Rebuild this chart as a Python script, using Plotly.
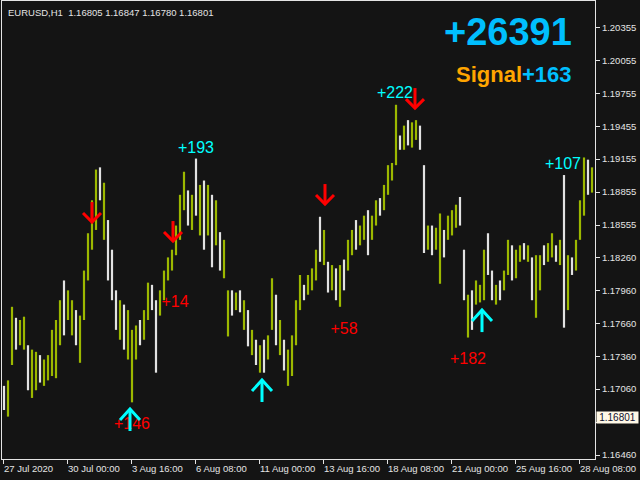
import plotly.graph_objects as go

# ---------------- data ----------------
hours = list(range(2, 591, 4))  # bar time index (hours since chart start)

high = [1.1709, 1.1714, 1.1781, 1.1771, 1.1769, 1.1772, 1.1746, 1.1742, 1.1740, 1.1737,
        1.1733, 1.1737, 1.1760, 1.1769, 1.1787, 1.1805, 1.1796, 1.1787, 1.1778, 1.1773,
        1.1814, 1.1848, 1.1878, 1.1906, 1.1908, 1.1894, 1.1860, 1.1833, 1.1796, 1.1787,
        1.1783, 1.1778, 1.1760, 1.1764, 1.1769, 1.1778, 1.1803, 1.1801, 1.1787, 1.1796,
        1.1814, 1.1826, 1.1833, 1.1855, 1.1883, 1.1904, 1.1887, 1.1883, 1.1916, 1.1892,
        1.1896, 1.1892, 1.1883, 1.1878, 1.1849, 1.1842, 1.1796, 1.1796, 1.1794, 1.1796,
        1.1787, 1.1778, 1.1760, 1.1751, 1.1746, 1.1751, 1.1755, 1.1807, 1.1792, 1.1769,
        1.1751, 1.1742, 1.1755, 1.1787, 1.1810, 1.1801, 1.1810, 1.1816, 1.1833, 1.1863,
        1.1851, 1.1822, 1.1819, 1.1816, 1.1819, 1.1824, 1.1842, 1.1851, 1.1860, 1.1855,
        1.1864, 1.1869, 1.1864, 1.1878, 1.1880, 1.1892, 1.1910, 1.1912, 1.1965, 1.1937,
        1.1946, 1.1951, 1.1949, 1.1951, 1.1946, 1.1910, 1.1855, 1.1855, 1.1853, 1.1866,
        1.1851, 1.1864, 1.1869, 1.1874, 1.1881, 1.1833, 1.1792, 1.1796, 1.1805, 1.1801,
        1.1833, 1.1848, 1.1814, 1.1801, 1.1805, 1.1814, 1.1842, 1.1837, 1.1833, 1.1837,
        1.1839, 1.1837, 1.1826, 1.1828, 1.1828, 1.1837, 1.1839, 1.1848, 1.1837, 1.1842,
        1.1901, 1.1828, 1.1826, 1.1842, 1.1878, 1.1917, 1.1915, 1.1908]

low = [1.1687, 1.1681, 1.1728, 1.1742, 1.1746, 1.1742, 1.1705, 1.1698, 1.1705, 1.1712,
       1.1709, 1.1714, 1.1718, 1.1716, 1.1746, 1.1755, 1.1769, 1.1755, 1.1746, 1.1730,
       1.1769, 1.1805, 1.1833, 1.1851, 1.1878, 1.1842, 1.1805, 1.1787, 1.1760, 1.1751,
       1.1742, 1.1733, 1.1694, 1.1733, 1.1746, 1.1751, 1.1769, 1.1778, 1.1721, 1.1773,
       1.1787, 1.1805, 1.1814, 1.1828, 1.1842, 1.1869, 1.1855, 1.1851, 1.1864, 1.1846,
       1.1833, 1.1846, 1.1817, 1.1837, 1.1814, 1.1807, 1.1754, 1.1773, 1.1778, 1.1776,
       1.1760, 1.1745, 1.1737, 1.1728, 1.1721, 1.1721, 1.1733, 1.1760, 1.1746, 1.1737,
       1.1723, 1.1709, 1.1718, 1.1746, 1.1778, 1.1787, 1.1792, 1.1796, 1.1805, 1.1822,
       1.1819, 1.1794, 1.1796, 1.1787, 1.1781, 1.1796, 1.1814, 1.1828, 1.1833, 1.1837,
       1.1842, 1.1828, 1.1842, 1.1855, 1.1864, 1.1869, 1.1883, 1.1896, 1.1910, 1.1924,
       1.1924, 1.1928, 1.1926, 1.1933, 1.1924, 1.1830, 1.1833, 1.1828, 1.1833, 1.1802,
       1.1826, 1.1842, 1.1846, 1.1853, 1.1855, 1.1787, 1.1753, 1.1760, 1.1783, 1.1785,
       1.1787, 1.1810, 1.1787, 1.1783, 1.1787, 1.1796, 1.1810, 1.1805, 1.1807, 1.1822,
       1.1824, 1.1822, 1.1787, 1.1771, 1.1796, 1.1819, 1.1822, 1.1826, 1.1822, 1.1819,
       1.1762, 1.1778, 1.1810, 1.1814, 1.1842, 1.1864, 1.1883, 1.1885]

bull = [0, 1, 1, 0, 1, 1, 0, 1, 1, 0,
        1, 1, 1, 1, 1, 0, 1, 1, 0, 1,
        1, 1, 1, 1, 0, 1, 0, 0, 0, 1,
        0, 1, 1, 1, 0, 1, 1, 0, 0, 1,
        1, 1, 1, 1, 1, 1, 0, 1, 0, 1,
        0, 1, 0, 1, 0, 1, 1, 0, 1, 0,
        1, 0, 1, 0, 1, 0, 1, 1, 0, 1,
        0, 1, 1, 1, 1, 0, 1, 1, 1, 0,
        1, 0, 1, 0, 1, 0, 1, 1, 0, 1,
        1, 0, 1, 1, 0, 1, 1, 1, 1, 0,
        1, 0, 1, 1, 0, 0, 1, 0, 1, 1,
        0, 1, 1, 1, 0, 0, 1, 0, 1, 1,
        1, 0, 0, 1, 0, 1, 1, 0, 1, 1,
        0, 1, 0, 1, 1, 0, 1, 1, 0, 1,
        0, 1, 0, 1, 1, 1, 0, 1]

# signals (arrow centre positions)
sell_hours = [90, 171, 323, 413]
sell_prices = [1.18673, 1.18500, 1.18837, 1.19711]
buy_hours = [128, 260, 480]
buy_prices = [1.16779, 1.17043, 1.17680]

profit_hours = [194, 393, 561, 173, 130, 342, 466]
profit_prices = [1.19247, 1.19748, 1.19101, 1.17844, 1.16733, 1.17598, 1.17325]
profit_texts = ["+193", "+222", "+107", "+14", "+146", "+58", "+182"]
profit_colors = ["#00FFFF", "#00FFFF", "#00FFFF", "#FF0000", "#FF0000", "#FF0000", "#FF0000"]

price_ticks = [1.20355, 1.20055, 1.19755, 1.19455, 1.19155, 1.18855, 1.18555,
               1.18260, 1.17960, 1.17660, 1.17360, 1.17060, 1.16760, 1.16460]
# the 1.16760 label sits under the current-price box, as in the terminal
price_tick_labels = ["1.20355", "1.20055", "1.19755", "1.19455", "1.19155", "1.18855", "1.18555",
                     "1.18260", "1.17960", "1.17660", "1.17360", "1.17060", "", "1.16460"]

time_ticks = [1, 65, 129, 193, 257, 321, 385, 449, 513, 577]
time_tick_labels = ["27 Jul 2020", "30 Jul 00:00", "3 Aug 16:00", "6 Aug 08:00", "11 Aug 00:00",
                    "13 Aug 16:00", "18 Aug 08:00", "21 Aug 00:00", "25 Aug 16:00", "28 Aug 08:00"]

header = "EURUSD,H1\u00a0 1.16805 1.16847 1.16780 1.16801"
last_price = 1.16801
total_text = "+26391"
signal_text = "+163"

# ---------------- style ----------------
BG = "#141414"
FG = "#E4E4E4"
UP = "#9CB800"
DN = "#E2E2E2"
W, H = 640, 480
ML, MR, MT, MB = 2, 45, 1, 21
XR = [0, 593]
YR = [1.16424, 1.20595]

# pixel -> data scale, used to draw the MT4-style line arrows at a fixed pixel size
dx = (XR[1] - XR[0]) / (W - ML - MR)
dy = (YR[1] - YR[0]) / (H - MT - MB)
DOWN_GLYPH = [[(0, -10), (0, 10)], [(-9, 1), (0, 10), (9, 1)]]     # (px right, px down)
UP_GLYPH = [[(0, 11), (0, -11)], [(-10, 0), (0, -11), (10, 0)]]


def arrow_path(hs, ps, glyph):
    xs, ys = [], []
    for h, p in zip(hs, ps):
        for stroke in glyph:
            for ox, oy in stroke:
                xs.append(h + ox * dx)
                ys.append(p - oy * dy)
            xs.append(None)
            ys.append(None)
    return xs, ys


# ---------------- figure ----------------
fig = go.Figure()

for flag, col in ((1, UP), (0, DN)):
    xs, ys = [], []
    for h, hi, lo, b in zip(hours, high, low, bull):
        if b == flag:
            xs += [h, h, None]
            ys += [lo, hi, None]
    fig.add_trace(go.Scatter(x=xs, y=ys, mode="lines", line=dict(color=col, width=2.2),
                             hoverinfo="skip", showlegend=False))

fig.add_trace(go.Scatter(x=profit_hours, y=profit_prices, mode="text", text=profit_texts,
                         textfont=dict(family="Liberation Sans, Arial", size=16, color=profit_colors),
                         textposition="middle center", showlegend=False, hoverinfo="skip"))

sx, sy = arrow_path(sell_hours, sell_prices, DOWN_GLYPH)
fig.add_trace(go.Scatter(x=sx, y=sy, mode="lines", line=dict(color="#FF0000", width=3),
                         showlegend=False, hoverinfo="skip"))
bx, by = arrow_path(buy_hours, buy_prices, UP_GLYPH)
fig.add_trace(go.Scatter(x=bx, y=by, mode="lines", line=dict(color="#00FFFF", width=3),
                         showlegend=False, hoverinfo="skip"))

annotations = []
for t, lab in zip(time_ticks, time_tick_labels):
    annotations.append(dict(x=t, y=0, xref="x", yref="paper", text=lab, showarrow=False,
                            xanchor="left", yanchor="top", yshift=-2, xshift=-1,
                            font=dict(family="Liberation Sans, Arial", size=9.5, color=FG)))
annotations.append(dict(x=0, y=1, xref="paper", yref="paper", text=header, showarrow=False,
                        xanchor="left", yanchor="top", xshift=4, yshift=-4,
                        font=dict(family="Liberation Sans, Arial", size=9.5, color=FG)))
annotations.append(dict(x=1, y=last_price, xref="paper", yref="y", text="%.5f" % last_price,
                        showarrow=False, xanchor="left", yanchor="middle", xshift=1,
                        width=41, height=11, align="center",
                        bgcolor="#FFF8E6", borderpad=0,
                        font=dict(family="Liberation Sans, Arial", size=10, color="#101030")))
annotations.append(dict(x=0.853, y=0.932, xref="paper", yref="paper",
                        text="<b>%s</b>" % total_text, showarrow=False,
                        xanchor="center", yanchor="middle",
                        font=dict(family="Liberation Sans, Arial", size=38, color="#00BFFF")))
annotations.append(dict(x=0.8642, y=0.8406, xref="paper", yref="paper",
                        text="<b><span style='color:#FFA500'>Signal</span>%s</b>" % signal_text,
                        showarrow=False, xanchor="center", yanchor="middle",
                        font=dict(family="Liberation Sans, Arial", size=22, color="#00BFFF")))

fig.update_layout(
    width=W, height=H,
    margin=dict(l=ML, r=MR, t=MT, b=MB),
    paper_bgcolor=BG, plot_bgcolor=BG,
    showlegend=False,
    annotations=annotations,
    xaxis=dict(range=XR, showgrid=False, zeroline=False,
               tickvals=time_ticks, ticktext=[""] * len(time_ticks),
               ticks="outside", ticklen=4, tickcolor=FG,
               showline=True, linecolor=FG, linewidth=1, mirror=True),
    yaxis=dict(range=YR, side="right", showgrid=False, zeroline=False,
               tickvals=price_ticks, ticktext=price_tick_labels,
               ticks="outside", ticklen=4, tickcolor=FG,
               tickfont=dict(family="Liberation Sans, Arial", size=9.5, color=FG),
               showline=True, linecolor=FG, linewidth=1, mirror=True),
)

fig.write_html("out.html", config={"displayModeBar": False},
               post_script="document.body.style.margin='0px';")
